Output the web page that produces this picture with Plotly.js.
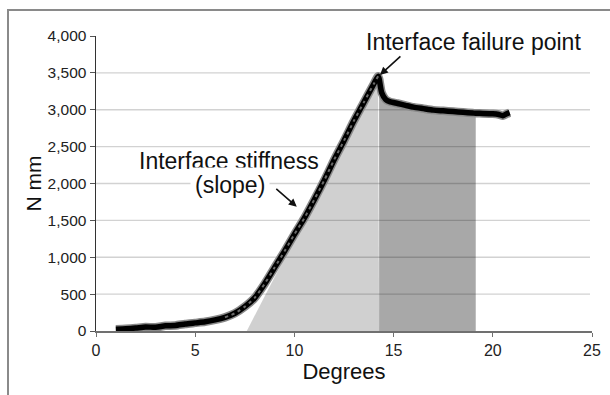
<!DOCTYPE html>
<html>
<head>
<meta charset="utf-8">
<script src="https://cdn.plot.ly/plotly-3.0.1.min.js"></script>
<style>
  html, body { margin: 0; padding: 0; background: #fff; }
  #wrap { position: relative; width: 610px; height: 395px; overflow: hidden; }
  #chart { position: absolute; left: 0; top: 0; width: 610px; height: 395px; }
  #frame { position: absolute; left: 7px; top: 9px; width: 700px; height: 500px;
           border-left: 2px solid #8a8a8a; border-top: 2px solid #8a8a8a; pointer-events: none; }
</style>
</head>
<body>
<div id="wrap">
  <div id="chart"></div>
  <div id="frame"></div>
</div>
<script>
// Measured moment curve (degrees vs N mm)
const degrees = [1.0, 1.5, 2.0, 2.5, 3.0, 3.5, 4.0, 4.5, 5.0, 5.5, 6.0, 6.5, 7.0, 7.5, 8.0, 8.5, 9.0, 9.5,
                 10.0, 10.5, 11.0, 11.5, 12.0, 12.5, 13.0, 13.5, 14.0, 14.22, 14.27, 14.4, 14.6, 14.8,
                 15.2, 15.6, 16.0, 16.5, 17.0, 17.5, 18.0, 18.5, 19.0, 19.14, 19.5, 20.0, 20.3, 20.5, 20.7, 20.85];
const moment  = [25, 30, 40, 55, 50, 70, 75, 95, 110, 125, 150, 185, 240, 330, 450, 640, 860, 1080,
                 1310, 1530, 1780, 2040, 2320, 2580, 2850, 3100, 3350, 3455, 3420, 3230, 3140, 3110,
                 3085, 3060, 3035, 3015, 2995, 2985, 2975, 2965, 2955, 2952, 2950, 2945, 2935, 2920, 2945, 2960];

// Stiffness (slope) triangle and post-failure region
const slopeX = [7.6, 14.22, 14.27];
const slopeY = [0, 3455, 0];
const failStart = 14.27;
const failEnd = 19.14;
const dashStart = 6.5;
const peakX = 14.22;

const xTicks = [0, 5, 10, 15, 20, 25];
const yTicks = [0, 500, 1000, 1500, 2000, 2500, 3000, 3500, 4000];
const yTickText = ['0', '500', '1,000', '1,500', '2,000', '2,500', '3,000', '3,500', '4,000'];
const gridVals = [500, 1000, 1500, 2000, 2500, 3000, 3500];

const FONT = 'Liberation Sans, Arial, Helvetica, sans-serif';

const failX = [], failY = [], dashX = [], dashY = [];
degrees.forEach((d, i) => {
  if (d >= failStart && d <= failEnd) { failX.push(d); failY.push(moment[i]); }
  if (d >= dashStart && d <= peakX) { dashX.push(d); dashY.push(moment[i]); }
});

const traces = [
  { x: slopeX, y: slopeY, type: 'scatter', mode: 'lines', fill: 'toself',
    fillcolor: 'rgba(0,0,0,0.185)', line: { width: 0 }, hoverinfo: 'skip' },
  { x: failX, y: failY, type: 'scatter', mode: 'lines', fill: 'tozeroy',
    fillcolor: 'rgba(0,0,0,0.34)', line: { width: 0 }, hoverinfo: 'skip' },
  { x: degrees, y: moment, type: 'scatter', mode: 'lines',
    line: { color: '#8a8a8a', width: 8.5, shape: 'spline', smoothing: 0.6 }, hoverinfo: 'skip' },
  { x: degrees, y: moment, type: 'scatter', mode: 'lines',
    line: { color: '#000', width: 5.5, shape: 'spline', smoothing: 0.6 } },
  { x: dashX, y: dashY, type: 'scatter', mode: 'lines',
    line: { color: '#6a6a6a', width: 2, dash: '3px,4px', shape: 'spline', smoothing: 0.6 }, hoverinfo: 'skip' }
];

const shapes = gridVals.map(v => ({
  type: 'line', xref: 'paper', yref: 'y', x0: 0, x1: 0.996, y0: v, y1: v,
  line: { color: '#d2d2d2', width: 1.3 }, layer: 'below'
}));

const layout = {
  width: 610, height: 395,
  margin: { l: 96, r: 18, t: 36, b: 64 },
  paper_bgcolor: '#fff', plot_bgcolor: '#fff',
  showlegend: false,
  font: { family: FONT, color: '#222' },
  xaxis: {
    range: [0, 25], tickvals: xTicks, ticktext: xTicks.map(String),
    showgrid: false, zeroline: false,
    showline: true, linecolor: '#707070', linewidth: 2,
    ticks: 'outside', ticklen: 4, tickcolor: '#707070', tickwidth: 1,
    tickfont: { family: FONT, size: 16, color: '#222' },
    title: { text: 'Degrees', font: { family: FONT, size: 22, color: '#111' }, standoff: 4 }
  },
  yaxis: {
    range: [0, 4000], tickvals: yTicks, ticktext: yTickText,
    showgrid: false, zeroline: false,
    showline: true, linecolor: '#333', linewidth: 1.5,
    ticks: 'outside', ticklen: 5, tickcolor: '#555', tickwidth: 1,
    tickfont: { family: FONT, size: 15.5, color: '#222' }
  },
  shapes: shapes,
  annotations: [
    { text: 'N mm', x: -0.127, y: 0.5, xref: 'paper', yref: 'paper', textangle: -90,
      xanchor: 'center', yanchor: 'middle', showarrow: false, borderpad: 0,
      font: { family: FONT, size: 21, color: '#111' } },
    { text: 'Interface failure point', x: 19.05, y: 3919, xref: 'x', yref: 'y',
      xanchor: 'center', yanchor: 'middle', showarrow: false,
      font: { family: FONT, size: 23, color: '#111' } },
    { text: 'Interface stiffness', x: 6.7, y: 2305, xref: 'x', yref: 'y',
      xanchor: 'center', yanchor: 'middle', showarrow: false,
      font: { family: FONT, size: 23, color: '#111' } },
    { text: '(slope)', x: 6.75, y: 1973, xref: 'x', yref: 'y',
      xanchor: 'center', yanchor: 'middle', showarrow: false, bgcolor: '#fff', borderpad: 4,
      font: { family: FONT, size: 23, color: '#111' } },
    { text: '', x: 14.31, y: 3471, xref: 'x', yref: 'y', showarrow: true,
      ax: 22, ay: -20, arrowhead: 2, arrowsize: 1, arrowwidth: 1.6, arrowcolor: '#111', standoff: 0 },
    { text: '', x: 10.12, y: 1686, xref: 'x', yref: 'y', showarrow: true,
      ax: -22, ay: -19, arrowhead: 2, arrowsize: 1, arrowwidth: 1.6, arrowcolor: '#111', standoff: 0 }
  ]
};

Plotly.newPlot('chart', traces, layout, { staticPlot: true, displayModeBar: false });
</script>
</body>
</html>
